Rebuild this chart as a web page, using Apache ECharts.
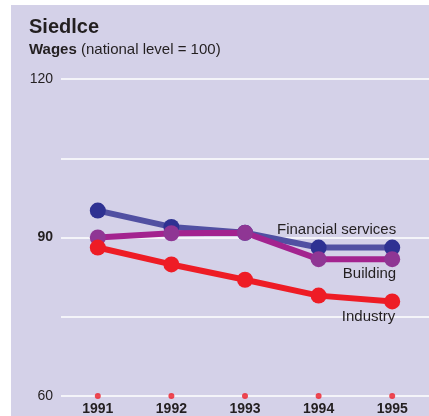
<!DOCTYPE html>
<html>
<head>
<meta charset="utf-8">
<script src="https://cdn.jsdelivr.net/npm/echarts@6/dist/echarts.min.js"></script>
<style>
html,body{margin:0;padding:0;background:#fff;}
#c{width:429px;height:416px;}
</style>
</head>
<body>
<div id="c"></div>
<script>
const years = ['1991','1992','1993','1994','1995'];
const financial = [95.1, 92.0, 90.9, 88.1, 88.1];
const building = [90.0, 90.8, 90.9, 85.9, 85.9];
const industry = [88.1, 84.9, 82.0, 79.0, 77.9];
const baseline = [60, 60, 60, 60, 60];
const yLabelShown = {60: '60', 90: '{b|90}', 120: '120'};

const FONT = '"Liberation Sans", Arial, Helvetica, sans-serif';
const chart = echarts.init(document.getElementById('c'), null, {renderer: 'canvas'});

function lastLabel(arr, text, pos, offset) {
  return arr.map((v, i) => i === arr.length - 1 ? {
    value: v,
    label: {show: true, formatter: text, position: pos, align: 'right', offset: offset,
      color: '#231f20', fontSize: 15, fontFamily: FONT}
  } : v);
}

chart.setOption({
  backgroundColor: '#ffffff',
  animation: false,
  graphic: [{
    type: 'rect', z: -100, silent: true,
    shape: {x: 11, y: 5, width: 418, height: 411},
    style: {fill: '#d4d1e8'}
  }],
  title: [{
    text: 'Siedlce', left: 29, top: 17, padding: 0,
    textStyle: {fontSize: 20, fontWeight: 'bold', color: '#231f20', fontFamily: FONT}
  }, {
    text: '{b|Wages} (national level = 100)', left: 29, top: 42, padding: 0,
    textStyle: {fontSize: 15, fontWeight: 'normal', color: '#231f20', fontFamily: FONT,
      rich: {b: {fontSize: 15, fontWeight: 'bold', color: '#231f20', fontFamily: FONT}}}
  }],
  grid: {left: 61, right: 0, top: 79, bottom: 20, containLabel: false},
  xAxis: {
    type: 'category', data: years, boundaryGap: true,
    axisLine: {show: false}, axisTick: {show: false},
    axisLabel: {margin: 6, fontSize: 14, fontWeight: 'bold', color: '#231f20', fontFamily: FONT}
  },
  yAxis: {
    type: 'value', min: 60, max: 120, interval: 15,
    axisLine: {show: false}, axisTick: {show: false},
    splitLine: {show: true, lineStyle: {color: '#ffffff', width: 1.5}},
    axisLabel: {
      margin: 8, fontSize: 14, color: '#231f20', fontFamily: FONT,
      formatter: v => yLabelShown[v] || '',
      rich: {b: {fontSize: 14, fontWeight: 'bold', color: '#231f20', fontFamily: FONT}}
    }
  },
  series: [{
    name: 'Financial services', type: 'line',
    data: lastLabel(financial, 'Financial services', 'top', [4, 3]),
    symbol: 'circle', symbolSize: 16,
    lineStyle: {color: '#5150a2', width: 6},
    itemStyle: {color: '#2e3192'}, z: 2
  }, {
    name: 'Building', type: 'line',
    data: lastLabel(building, 'Building', 'bottom', [4, -6]),
    symbol: 'circle', symbolSize: 16,
    lineStyle: {color: '#a3238f', width: 6},
    itemStyle: {color: '#8f3694'}, z: 3
  }, {
    name: 'Industry', type: 'line',
    data: lastLabel(industry, 'Industry', 'bottom', [3, -5]),
    symbol: 'circle', symbolSize: 16,
    lineStyle: {color: '#ee1c25', width: 6},
    itemStyle: {color: '#ee1c25'}, z: 4
  }, {
    name: 'axis dots', type: 'scatter', data: baseline,
    symbol: 'circle', symbolSize: 6,
    itemStyle: {color: '#ee1c25'}, z: 5
  }]
});
</script>
</body>
</html>
